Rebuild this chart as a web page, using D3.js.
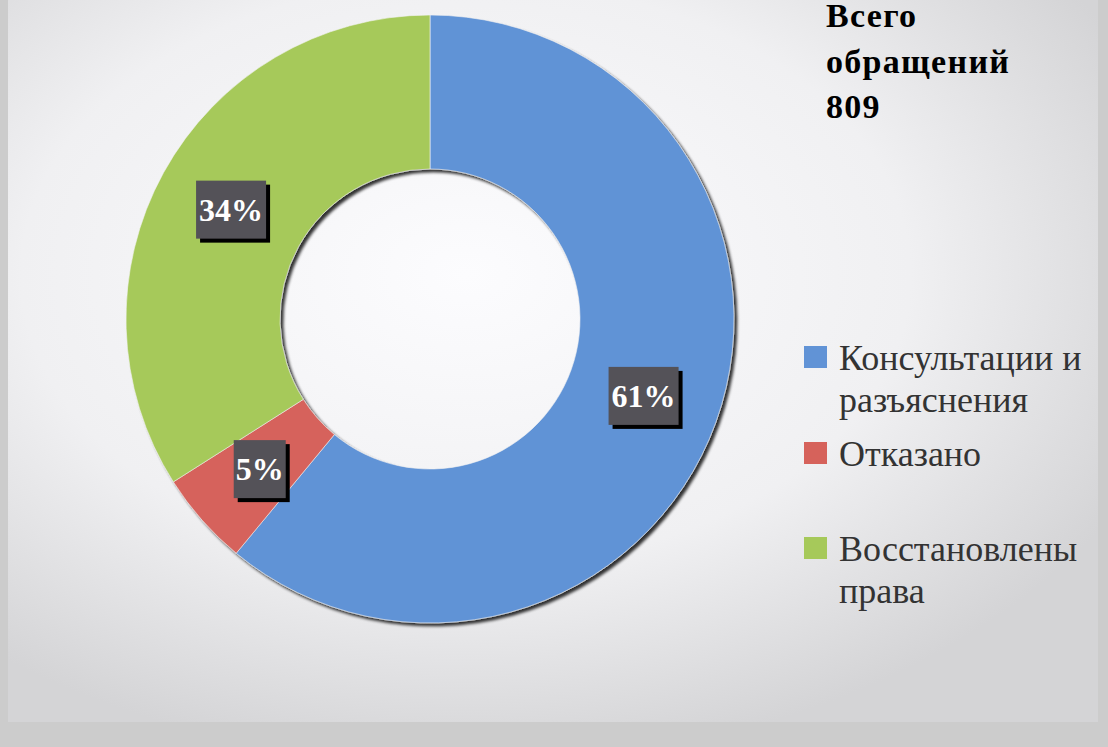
<!DOCTYPE html>
<html>
<head>
<meta charset="utf-8">
<script src="https://cdn.jsdelivr.net/npm/d3@7"></script>
<style>
  body { margin: 0; background: #cccccc; }
  svg { display: block; }
  .legend-label { font-family: "Liberation Serif", "Times New Roman", serif; font-size: 36px; fill: #333333; }
  .title { font-family: "Liberation Serif", "Times New Roman", serif; font-size: 34px; font-weight: bold; fill: #000000; letter-spacing: 1.3px; }
  .pct { font-family: "Liberation Serif", "Times New Roman", serif; font-size: 32px; font-weight: bold; fill: #ffffff; }
</style>
</head>
<body>
<svg id="chart" width="1108" height="747"></svg>
<script>
// DATA
const categories = ["Консультации и разъяснения", "Отказано", "Восстановлены права"];
const legendLines = [["Консультации и", "разъяснения"], ["Отказано"], ["Восстановлены", "права"]];
const shares = [61, 5, 34];
const titleLines = ["Всего", "обращений", "809"];

const colors = ["#6193d6", "#d6625b", "#a6c95a"];

const svg = d3.select("#chart");

// 1: BACKGROUND PANEL (radial grey gradient)
const defs = svg.append("defs");
const grad = defs.append("radialGradient")
    .attr("id", "bg")
    .attr("cx", "42%").attr("cy", "38%").attr("r", "68%");
grad.append("stop").attr("offset", "0%").attr("stop-color", "#fcfcfe");
grad.append("stop").attr("offset", "60%").attr("stop-color", "#f0f0f2");
grad.append("stop").attr("offset", "100%").attr("stop-color", "#d4d4d6");

const shadow = defs.append("filter").attr("id", "shadow")
    .attr("x", "-10%").attr("y", "-10%").attr("width", "130%").attr("height", "130%");
shadow.append("feGaussianBlur").attr("in", "SourceAlpha").attr("stdDeviation", 1.5);
shadow.append("feOffset").attr("dx", 3).attr("dy", 3).attr("result", "off");
shadow.append("feComponentTransfer").append("feFuncA").attr("type", "linear").attr("slope", 0.8);
const merge = shadow.append("feMerge");
merge.append("feMergeNode");
merge.append("feMergeNode").attr("in", "SourceGraphic");

svg.append("rect")
    .attr("x", 8).attr("y", 0)
    .attr("width", 1090).attr("height", 722)
    .attr("fill", "url(#bg)");

// 2: DONUT
const cx = 430, cy = 319, outerR = 304, innerR = 150;

const pie = d3.pie().sort(null).value(d => d);
const arcs = pie(shares);

const arc = d3.arc().innerRadius(innerR).outerRadius(outerR);
const labelArc = d3.arc().innerRadius(227).outerRadius(227);

const g = svg.append("g").attr("transform", `translate(${cx},${cy})`);

g.append("g")
    .attr("filter", "url(#shadow)")
    .selectAll("path")
    .data(arcs)
    .enter()
    .append("path")
    .attr("d", arc)
    .attr("fill", (d, i) => colors[i])
    .attr("stroke", "#f4f4f4")
    .attr("stroke-width", 0.6);

// 3: PERCENT LABELS (dark boxes with shadow)
const boxW = 70, boxH = 58;
const labels = g.selectAll("g.lbl")
    .data(arcs)
    .enter()
    .append("g")
    .attr("class", "lbl")
    .attr("transform", d => {
        const [x, y] = labelArc.centroid(d);
        return `translate(${x},${y})`;
    });

labels.append("rect")
    .attr("x", d => -boxW / 2 + 4 + (d.data < 10 ? 9 : 0))
    .attr("y", -boxH / 2 + 4)
    .attr("width", d => d.data < 10 ? boxW - 18 : boxW)
    .attr("height", boxH)
    .attr("fill", "#000000");

labels.append("rect")
    .attr("x", d => -boxW / 2 + (d.data < 10 ? 9 : 0))
    .attr("y", -boxH / 2)
    .attr("width", d => d.data < 10 ? boxW - 18 : boxW)
    .attr("height", boxH)
    .attr("fill", "#545258");

labels.append("text")
    .attr("class", "pct")
    .attr("text-anchor", "middle")
    .attr("y", 11)
    .text(d => d.data + "%");

// 4: TITLE
svg.append("g")
    .selectAll("text")
    .data(titleLines)
    .enter()
    .append("text")
    .attr("class", "title")
    .attr("x", 826)
    .attr("y", (d, i) => 27 + i * 45.5)
    .text(d => d);

// 5: LEGEND
const legendY = [346, 442, 537];
const legend = svg.append("g");
categories.forEach((c, i) => {
    legend.append("rect")
        .attr("x", 804).attr("y", legendY[i])
        .attr("width", 23).attr("height", 22)
        .attr("fill", colors[i]);
    legendLines[i].forEach((line, j) => {
        legend.append("text")
            .attr("class", "legend-label")
            .attr("x", 839)
            .attr("y", legendY[i] + 24 + j * 42)
            .text(line);
    });
});
</script>
</body>
</html>
